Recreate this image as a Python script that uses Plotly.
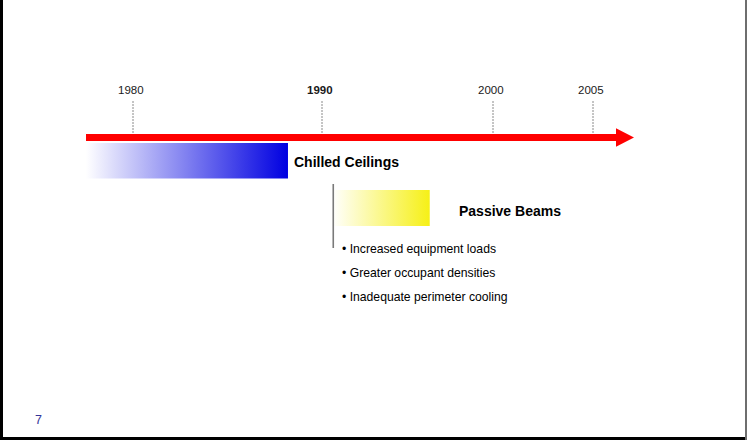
import numpy as np
import plotly.graph_objects as go

# ---- content -------------------------------------------------------------
tick_years = [1980, 1990, 2000, 2005]
tick_labels = ["1980", "1990", "2000", "2005"]
tick_bold = [False, True, False, False]

tech_names = ["Chilled Ceilings", "Passive Beams"]
tech_start = [1977.5, 1990.6]   # year each technology appears
tech_end = [1988.2, 1996.3]     # year each phase fades out

drivers = [
    "Increased equipment loads",
    "Greater occupant densities",
    "Inadequate perimeter cooling",
]
page_number = "7"

# ---- layout / styling ----------------------------------------------------
W, H = 747, 440
FONT = "Arial, 'Liberation Sans', sans-serif"
TICK_X = [133, 322, 493, 593]          # page position of each year mark
AXIS_Y0, AXIS_Y1 = 134, 141            # timeline shaft
HEAD_X0, HEAD_X1 = 616, 634
HEAD_Y0, HEAD_Y1 = 128.3, 146.7
ARROW_START = 86

BAND_Y = [(143, 178.5), (190, 226)]
BAND_COLORS = ["rgb(0,0,225)", "rgb(246,240,22)"]
LABEL_GAP = [4, 27]
LABEL_Y = [162, 211]


def year_to_x(year):
    """Map a year onto the drawn timeline (piecewise between year marks)."""
    xs, ys = TICK_X, tick_years
    if year <= ys[0]:
        slope = (xs[1] - xs[0]) / (ys[1] - ys[0])
        return xs[0] + (year - ys[0]) * slope
    if year >= ys[-1]:
        slope = (xs[-1] - xs[-2]) / (ys[-1] - ys[-2])
        return xs[-1] + (year - ys[-1]) * slope
    return float(np.interp(year, ys, xs))


fig = go.Figure()
shapes = []
annotations = []

# dashed year marks and labels
for yr, lab, bold in zip(tick_years, tick_labels, tick_bold):
    x = year_to_x(yr)
    shapes.append(dict(type="line", xref="x", yref="y", x0=x, x1=x, y0=101, y1=136,
                       line=dict(color="#8a8a8a", width=1, dash="2px,1px")))
    annotations.append(dict(x=x - 2, y=90, xref="x", yref="y", showarrow=False,
                            text=f"<b>{lab}</b>" if bold else lab,
                            font=dict(family=FONT, size=11.5, color="#1a1a1a"),
                            xanchor="center", yanchor="middle"))

# red timeline arrow
arrow_path = (f"M{ARROW_START},{AXIS_Y0} L{HEAD_X0},{AXIS_Y0} L{HEAD_X0},{HEAD_Y0} "
              f"L{HEAD_X1},{(AXIS_Y0 + AXIS_Y1) / 2} L{HEAD_X0},{HEAD_Y1} "
              f"L{HEAD_X0},{AXIS_Y1} L{ARROW_START},{AXIS_Y1} Z")
shapes.append(dict(type="path", xref="x", yref="y", path=arrow_path,
                   fillcolor="#ff0000", line=dict(width=0)))

# technology bands with white-to-colour gradients
for i, name in enumerate(tech_names):
    x0, x1 = year_to_x(tech_start[i]), year_to_x(tech_end[i])
    y0, y1 = BAND_Y[i]
    fig.add_trace(go.Scatter(
        x=[x0, x1, x1, x0, x0], y=[y0, y0, y1, y1, y0],
        mode="lines", fill="toself", line=dict(width=0),
        fillgradient=dict(type="horizontal",
                          colorscale=[[0, "rgba(255,255,255,1)"], [1, BAND_COLORS[i]]]),
        hoverinfo="skip", showlegend=False))
    annotations.append(dict(x=x1 + LABEL_GAP[i], y=LABEL_Y[i], xref="x", yref="y",
                            showarrow=False, text=f"<b>{name}</b>",
                            font=dict(family=FONT, size=14, color="#000000"),
                            xanchor="left", yanchor="middle"))

# marker line at the start of the passive beam period
mx = year_to_x(tech_start[1]) + 1
shapes.append(dict(type="line", xref="x", yref="y", x0=mx, x1=mx, y0=184, y1=248,
                   line=dict(color="#7a7a7a", width=1.6)))

# bullet list of drivers
for k, txt in enumerate(drivers):
    annotations.append(dict(x=340, y=249 + 24 * k, xref="x", yref="y", showarrow=False,
                            text="\u2022 " + txt,
                            font=dict(family=FONT, size=12.2, color="#000000"),
                            xanchor="left", yanchor="middle"))

# page number
annotations.append(dict(x=38, y=420, xref="x", yref="y", showarrow=False, text=page_number,
                        font=dict(family=FONT, size=12.5, color="#333399"),
                        xanchor="center", yanchor="middle"))

# slide frame: left, bottom and right edges
shapes += [
    dict(type="rect", xref="paper", yref="paper", x0=0, x1=3 / W, y0=0, y1=1,
         fillcolor="#000000", line=dict(width=0)),
    dict(type="rect", xref="paper", yref="paper", x0=0, x1=1, y0=0, y1=3 / H,
         fillcolor="#000000", line=dict(width=0)),
    dict(type="rect", xref="paper", yref="paper", x0=(W - 2) / W, x1=1, y0=0, y1=1,
         fillcolor="#6e6e6e", line=dict(width=0)),
]

fig.update_layout(
    width=W, height=H,
    margin=dict(l=0, r=0, t=0, b=0),
    paper_bgcolor="white", plot_bgcolor="white",
    xaxis=dict(range=[0, W], visible=False, fixedrange=True),
    yaxis=dict(range=[H, 0], visible=False, fixedrange=True),
    shapes=shapes, annotations=annotations,
    showlegend=False,
)

fig.write_html("out.html")
